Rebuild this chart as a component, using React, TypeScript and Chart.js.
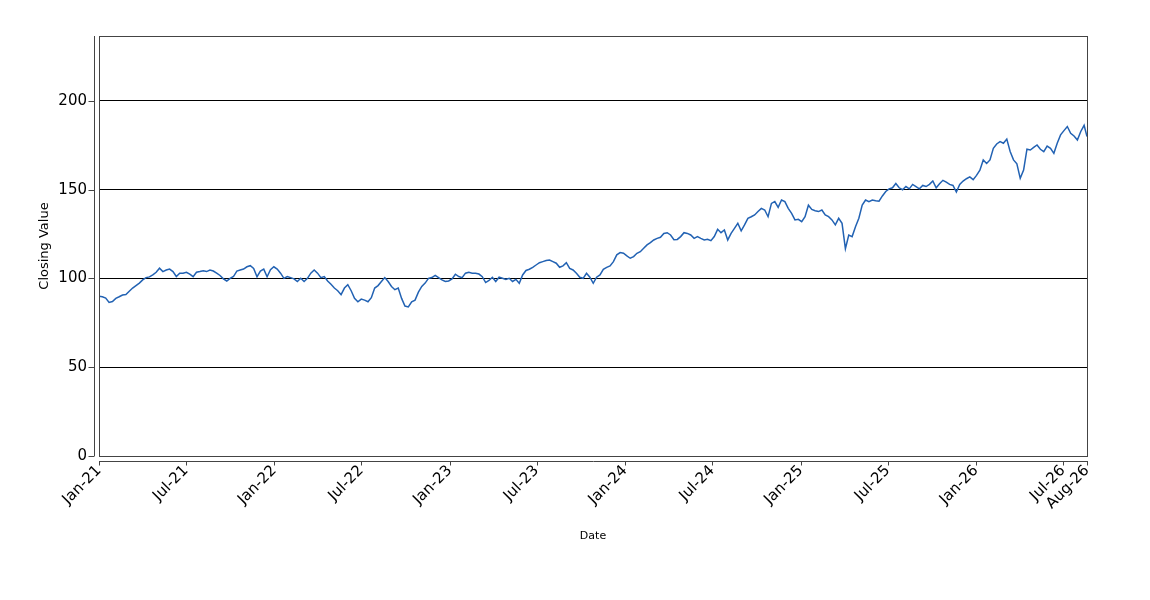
import React, { useEffect, useRef } from "react";
import Chart from "chart.js/auto";

// weekly closes (one value per week from 1 Jan 2021)
const close2021 = [
  90.0, 89.7, 89.0, 86.5, 87.0, 88.8, 89.7, 90.7, 91.0, 92.8,
  94.6, 96.0, 97.4, 99.2, 100.5, 100.9, 102.0, 103.5, 105.8, 103.9,
  104.8, 105.3, 103.9, 101.1, 103.0, 103.0, 103.5, 102.4, 101.0, 103.5,
  103.9, 104.4, 103.9, 104.8, 104.2, 103.0, 101.7, 99.8, 98.6, 100.1,
  101.1, 104.2, 104.8, 105.3, 106.6, 107.2, 105.7, 101.0, 104.2, 105.3,
  101.0, 105.0,
];
const close2022 = [
  106.6, 105.3, 103.0, 100.1, 101.1, 100.5, 99.8, 98.3, 100.1, 98.3,
  100.1, 103.0, 104.8, 103.0, 100.5, 101.1, 98.6, 96.7, 94.6, 93.1,
  90.9, 94.6, 96.5, 93.1, 88.8, 86.9, 88.4, 87.8, 86.9, 89.2,
  94.6, 96.0, 98.3, 100.5, 98.3, 95.5, 93.7, 94.6, 88.8, 84.5,
  84.0, 86.9, 87.8, 92.3, 95.5, 97.4, 100.1, 100.5, 101.7, 100.5,
  99.2, 98.3,
];
const close2023 = [
  98.6, 99.8, 102.4, 101.1, 100.5, 103.0, 103.5, 103.0, 103.0, 102.5,
  101.0, 97.7, 98.9, 100.7, 98.3, 100.7, 100.1, 99.5, 100.1, 98.3,
  99.5, 97.3, 102.0, 104.5, 105.2, 106.3, 107.6, 108.9, 109.5, 110.1,
  110.4, 109.5, 108.6, 106.3, 107.1, 108.9, 105.7, 104.8, 102.9, 100.7,
  100.1, 102.9, 100.7, 97.3, 100.7, 102.0, 105.2, 106.3, 107.1, 109.5,
  113.3, 114.6,
];
const close2024 = [
  114.2, 112.7, 111.4, 112.3, 114.2, 115.1, 117.0, 118.9, 120.2, 121.7,
  122.6, 123.2, 125.4, 125.8, 124.5, 121.8, 122.0, 123.6, 125.8, 125.4,
  124.5, 122.6, 123.6, 122.6, 121.7, 122.1, 121.3, 123.6, 127.7, 125.8,
  127.3, 121.7, 125.4, 128.2, 131.1, 126.8, 130.2, 133.9, 134.8, 135.8,
  137.7, 139.5, 138.6, 134.8, 142.3, 143.3, 140.1, 144.2, 143.3, 139.5,
  136.7, 133.0,
];
const close2025 = [
  133.3, 132.0, 134.8, 141.3, 138.9, 138.2, 137.7, 138.6, 135.8, 134.8,
  133.0, 130.2, 133.9, 131.1, 116.8, 124.5, 123.6, 129.2, 133.9, 141.3,
  144.2, 143.3, 144.2, 143.8, 143.5, 146.5, 149.0, 150.5, 151.1, 153.5,
  151.1, 150.0, 151.8, 150.5, 153.0, 151.8, 150.5, 152.4, 151.8, 153.0,
  154.9, 151.1, 153.4, 155.3, 154.3, 153.0, 152.4, 148.7, 153.0, 154.9,
  156.2, 157.2,
];
const close2026 = [
  155.7, 158.1, 161.0, 166.8, 164.8, 166.8, 173.3, 175.8, 177.1, 176.2,
  178.5, 171.5, 166.8, 164.6, 156.4, 161.1, 172.8, 172.4, 173.9, 175.2,
  172.8, 171.5, 174.6, 173.3, 170.5, 176.2, 180.9, 183.3, 185.6, 181.8,
  180.3, 178.0, 182.8, 186.3,
];

const startDate = "2021-01-01";
const endDate = "2026-08-20";
const lastClose = 180.0;

const tickDates = [
  "2021-01-01", "2021-07-01", "2022-01-01", "2022-07-01", "2023-01-01",
  "2023-07-01", "2024-01-01", "2024-07-01", "2025-01-01", "2025-07-01",
  "2026-01-01", "2026-07-01", "2026-08-20",
];
const tickLabels = [
  "Jan-21", "Jul-21", "Jan-22", "Jul-22", "Jan-23", "Jul-23", "Jan-24",
  "Jul-24", "Jan-25", "Jul-25", "Jan-26", "Jul-26", "Aug-26",
];

const yTicks = [0, 50, 100, 150, 200];
const yMax = 236.6;

const FONT = "'DejaVu Sans', sans-serif";

const dayOf = (iso: string) =>
  (Date.parse(iso) - Date.parse(startDate)) / 86400000;

// separate axis lines with small ticks, plus the plot box
const axisFrame = {
  id: "axisFrame",
  afterDraw(chart: any) {
    const { ctx, chartArea, scales } = chart;
    const { left, right, top, bottom } = chartArea;
    ctx.save();
    ctx.strokeStyle = "#444";
    ctx.lineWidth = 1;
    ctx.strokeRect(left + 0.5, top + 0.5, right - left, bottom - top);

    ctx.beginPath();
    const ax = left - 4.5;
    ctx.moveTo(ax, top);
    ctx.lineTo(ax, bottom);
    scales.y.ticks.forEach((t: any) => {
      const py = Math.round(scales.y.getPixelForValue(t.value)) + 0.5;
      ctx.moveTo(ax - 6, py);
      ctx.lineTo(ax, py);
    });
    const ay = bottom + 5.5;
    ctx.moveTo(left, ay);
    ctx.lineTo(right + 1, ay);
    scales.x.ticks.forEach((t: any) => {
      const px = Math.round(scales.x.getPixelForValue(t.value)) + 0.5;
      ctx.moveTo(px, ay);
      ctx.lineTo(px, ay + 4);
    });
    ctx.stroke();
    ctx.restore();
  },
};

const ClosingChart = () => {
  const chartRef = useRef<HTMLCanvasElement>(null);
  const myChartRef = useRef<Chart | null>(null);

  useEffect(() => {
    document.body.style.margin = "0";
    const canvas = chartRef.current;
    if (myChartRef.current) myChartRef.current.destroy();
    if (!canvas) return;

    const weekly = [
      ...close2021, ...close2022, ...close2023,
      ...close2024, ...close2025, ...close2026,
    ];
    const endDay = dayOf(endDate);
    const points = weekly.map((v, i) => ({ x: i * 7, y: v }));
    points.push({ x: endDay, y: lastClose });
    const tickDays = tickDates.map(dayOf);

    myChartRef.current = new Chart(canvas, {
      type: "line",
      data: {
        datasets: [
          {
            label: "Closing Value",
            data: points,
            borderColor: "#2262b3",
            borderWidth: 1.5,
            pointRadius: 0,
            tension: 0,
            fill: false,
          },
        ],
      },
      options: {
        responsive: false,
        animation: false,
        layout: { padding: { top: 36, right: 63, bottom: 0, left: 0 } },
        plugins: {
          legend: { display: false },
          tooltip: { enabled: false },
        },
        scales: {
          x: {
            type: "linear",
            min: 0,
            max: endDay,
            grid: { display: false, drawTicks: false },
            border: { display: false },
            afterBuildTicks: (s: any) => {
              s.ticks = tickDays.map((v) => ({ value: v }));
            },
            afterFit: (s: any) => {
              s.height = 144;
            },
            ticks: {
              autoSkip: false,
              minRotation: 45,
              maxRotation: 45,
              padding: 6,
              color: "#000",
              font: { family: FONT, size: 15 },
              callback: (_v: any, i: number) => tickLabels[i],
            },
            title: {
              display: true,
              text: "Date",
              color: "#000",
              font: { family: FONT, size: 11 },
              padding: { top: 0, bottom: 57 },
            },
          },
          y: {
            min: 0,
            max: yMax,
            grid: { color: "#000", lineWidth: 1, drawTicks: false },
            border: { display: false },
            afterBuildTicks: (s: any) => {
              s.ticks = yTicks.map((v) => ({ value: v }));
            },
            afterFit: (s: any) => {
              s.width = 99;
            },
            ticks: {
              padding: 12,
              color: "#000",
              font: { family: FONT, size: 15 },
            },
            title: {
              display: true,
              text: "Closing Value",
              color: "#000",
              font: { family: FONT, size: 13 },
              padding: { top: 37, bottom: 0 },
            },
          },
        },
      },
      plugins: [axisFrame],
    });

    return () => {
      if (myChartRef.current) {
        myChartRef.current.destroy();
        myChartRef.current = null;
      }
    };
  }, []);

  return (
    <div style={{ width: 1150, height: 600 }}>
      <canvas ref={chartRef} width={1150} height={600} />
    </div>
  );
};

export default function App() {
  return <ClosingChart />;
}
